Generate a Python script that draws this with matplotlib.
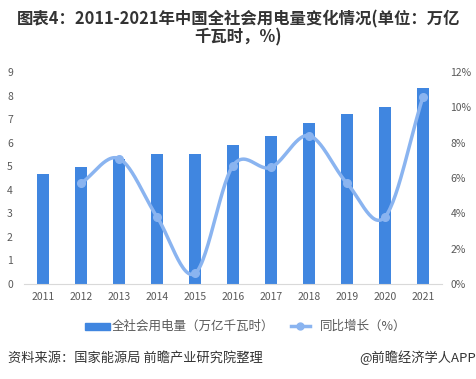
import numpy as np
import matplotlib
matplotlib.use("Agg")
import matplotlib.pyplot as plt
from matplotlib.ticker import FuncFormatter
from matplotlib.patches import Rectangle
from matplotlib.lines import Line2D

plt.rcParams['font.family'] = ['Noto Sans CJK SC', 'DejaVu Sans']

years = ['2011', '2012', '2013', '2014', '2015', '2016', '2017', '2018', '2019', '2020', '2021']
consumption = [4.69, 4.95, 5.32, 5.50, 5.52, 5.91, 6.30, 6.82, 7.23, 7.51, 8.30]
growth_years = ['2012', '2013', '2014', '2015', '2016', '2017', '2018', '2019', '2020', '2021']
growth = [5.7, 7.1, 3.8, 0.6, 6.7, 6.6, 8.4, 5.7, 3.8, 10.6]

bar_label = '全社会用电量（万亿千瓦时）'
line_label = '同比增长（%）'
title = '图表4：2011-2021年中国全社会用电量变化情况(单位：万亿\n千瓦时，%)'
source = '资料来源：国家能源局 前瞻产业研究院整理'
brand = '@前瞻经济学人APP'

bar_color = '#4086E0'
line_color = '#8AB4F0'
tick_color = '#595959'

W, H = 477, 379
fig = plt.figure(figsize=(W / 100, H / 100), dpi=100)
ax = fig.add_axes([24 / W, (H - 284) / H, (442 - 24) / W, (284 - 72) / H])
ax2 = ax.twinx()

x = np.arange(len(years))
ax.bar(x, consumption, width=0.32, color=bar_color, zorder=2)
ax.set_xlim(-0.5, len(years) - 0.5)
ax.set_ylim(0, 9)
ax.set_yticks(range(0, 10))
ax.set_xticks(x)
ax.set_xticklabels(years)

# smooth curve (Catmull-Rom, like Excel smoothed line)
gx = np.array([years.index(y) for y in growth_years], dtype=float)
gy = np.array(growth, dtype=float)
px = np.concatenate([[2 * gx[0] - gx[1]], gx, [2 * gx[-1] - gx[-2]]])
py = np.concatenate([[2 * gy[0] - gy[1]], gy, [2 * gy[-1] - gy[-2]]])
sx, sy = [], []
t = np.linspace(0, 1, 30)
for i in range(1, len(px) - 2):
    p0, p1, p2, p3 = [np.array([px[j], py[j]]) for j in range(i - 1, i + 3)]
    pts = 0.5 * ((2 * p1)[None, :] + (-p0 + p2)[None, :] * t[:, None]
                 + (2 * p0 - 5 * p1 + 4 * p2 - p3)[None, :] * (t ** 2)[:, None]
                 + (-p0 + 3 * p1 - 3 * p2 + p3)[None, :] * (t ** 3)[:, None])
    sx.extend(pts[:, 0]); sy.extend(pts[:, 1])
ax2.plot(sx, sy, color=line_color, lw=2.5, solid_capstyle='round', zorder=3)
ax2.plot(gx, gy, 'o', color=line_color, ms=5.5, zorder=4)
ax2.set_ylim(0, 12)
ax2.set_yticks(range(0, 13, 2))
ax2.yaxis.set_major_formatter(FuncFormatter(lambda v, p: f'{int(v)}%'))

for a in (ax, ax2):
    for s in a.spines.values():
        s.set_visible(False)
    a.tick_params(length=0, labelsize=7.5, colors=tick_color)
ax.spines['bottom'].set_visible(True)
ax.spines['bottom'].set_color('#D9D9D9')
ax.tick_params(axis='y', pad=8)
ax2.tick_params(axis='y', pad=6)
ax.tick_params(axis='x', pad=6)

fig.text(0.5, 1 - 28 / H, title, ha='center', va='center', fontsize=11.8,
         fontweight='bold', color='#333333', linespacing=1.0)

# legend
ly = 1 - 326 / H
fig.patches.append(Rectangle((85 / W, ly - 3.5 / H), 25 / W, 7 / H, color=bar_color,
                             transform=fig.transFigure, figure=fig))
fig.text(112 / W, ly, bar_label, ha='left', va='center', fontsize=9, color=tick_color)
fig.lines.append(Line2D([291 / W, 310 / W], [ly, ly], color=line_color, lw=2.5,
                        transform=fig.transFigure, figure=fig))
fig.lines.append(Line2D([300 / W], [ly], marker='o', ms=5, color=line_color,
                        transform=fig.transFigure, figure=fig))
fig.text(320 / W, ly, line_label, ha='left', va='center', fontsize=9, color=tick_color)

fy = 1 - 358 / H
fig.text(8 / W, fy, source, ha='left', va='center', fontsize=9.5, color='#333333')
fig.text(476 / W, fy, brand, ha='right', va='center', fontsize=9.5, color='#333333')

fig.savefig('out.png', dpi=100)
